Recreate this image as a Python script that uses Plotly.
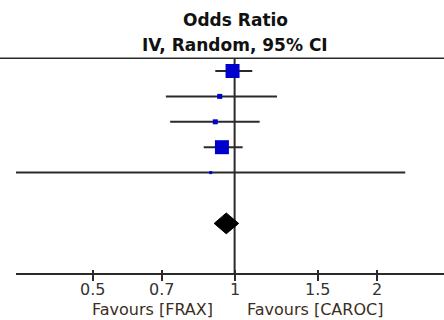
import math
import plotly.graph_objects as go

# Study-level odds ratios with 95% confidence intervals (IV, random effects)
study_rows = [0, 1, 2, 3, 4]
study_or = [0.99, 0.93, 0.91, 0.94, 0.89]
study_lo = [0.91, 0.715, 0.73, 0.86, 0.34]
study_hi = [1.09, 1.23, 1.13, 1.04, 2.30]

# Pooled estimate
pooled_row = 6
pooled_or = 0.96
pooled_lo = 0.905
pooled_hi = 1.02

# Axis ticks
tick_vals = [0.5, 0.7, 1, 1.5, 2]
tick_text = ["0.5", "0.7", "1", "1.5", "2"]

# Styling
W, H = 444, 320
marker_sizes = [14, 5, 5, 14, 3]
BLUE = "#0000CC"
INK = "#2a2a2a"
FONT = "DejaVu Sans"
NULL_EFFECT = 1.0

x_min, x_max = 0.344, 10 ** 0.4439
x_left_px = 16
row_first_px, row_step_px = 71.0, 25.4
y_top = -row_first_px / row_step_px
y_bottom = (H - row_first_px) / row_step_px
axis_row = 8
header_row = -0.5


def paper_y(row):
    return (y_bottom - row) / (y_bottom - y_top)


fig = go.Figure()

# confidence interval lines + weighted study markers
fig.add_trace(go.Scatter(
    x=study_or, y=study_rows, mode="markers",
    marker=dict(symbol="square", size=marker_sizes, color=BLUE, opacity=1,
                line=dict(width=0)),
    error_x=dict(type="data", symmetric=False,
                 array=[h - o for h, o in zip(study_hi, study_or)],
                 arrayminus=[o - l for o, l in zip(study_or, study_lo)],
                 color=INK, thickness=2, width=0),
    hoverinfo="skip", showlegend=False,
))

# pooled diamond
half_h = 0.41
fig.add_trace(go.Scatter(
    x=[pooled_lo, pooled_or, pooled_hi, pooled_or, pooled_lo],
    y=[pooled_row, pooled_row - half_h, pooled_row, pooled_row + half_h, pooled_row],
    mode="lines", fill="toself", fillcolor="black",
    line=dict(color="black", width=1),
    hoverinfo="skip", showlegend=False,
))

# invisible trace that carries the upward tick axis
fig.add_trace(go.Scatter(x=[NULL_EFFECT], y=[axis_row], xaxis="x2", mode="markers",
                         marker=dict(opacity=0), hoverinfo="skip", showlegend=False))

# line of no effect and header rule
fig.add_shape(type="line", xref="x", yref="y", x0=NULL_EFFECT, x1=NULL_EFFECT,
              y0=header_row, y1=axis_row, line=dict(color=INK, width=2), layer="below")
fig.add_shape(type="line", xref="paper", yref="y", x0=0, x1=1,
              y0=header_row, y1=header_row, line=dict(color=INK, width=1.5))

axis_common = dict(
    type="log", range=[math.log10(x_min), math.log10(x_max)],
    domain=[x_left_px / W, 1], anchor="free", position=paper_y(axis_row),
    showgrid=False, zeroline=False, tickvals=tick_vals, showticklabels=False,
)

fig.update_layout(
    width=W, height=H, margin=dict(l=0, r=0, t=0, b=0),
    paper_bgcolor="white", plot_bgcolor="white",
    font=dict(family=FONT, color=INK),
    xaxis=dict(**axis_common, showline=True, linecolor=INK,
               linewidth=1.5, ticks="outside", ticklen=6, tickwidth=1.5,
               tickcolor=INK),
    xaxis2=dict(**axis_common, overlaying="x", side="top", showline=False,
                ticks="outside", ticklen=4, tickwidth=1.5, tickcolor=INK),
    yaxis=dict(range=[y_bottom, y_top], domain=[0, 1], visible=False),
)

# tick labels, set just under the tick marks
for v, t in zip(tick_vals, tick_text):
    fig.add_annotation(text=t, xref="x", yref="paper", x=math.log10(v),
                       y=1 - 289 / H, showarrow=False, xanchor="center",
                       yanchor="middle", font=dict(size=16, color="#333333"))

center_x = 235 / W
fig.add_annotation(text="<b>Odds Ratio</b>", xref="paper", yref="paper",
                   x=center_x, y=1 - 20 / H, showarrow=False,
                   font=dict(size=17, color="#111111"), xanchor="center", yanchor="middle")
fig.add_annotation(text="<b>IV, Random, 95% CI</b>", xref="paper", yref="paper",
                   x=center_x, y=1 - 45 / H, showarrow=False,
                   font=dict(size=17, color="#111111"), xanchor="center", yanchor="middle")
fig.add_annotation(text="Favours [FRAX]", xref="paper", yref="paper",
                   x=215 / W, y=1 - 309 / H, showarrow=False,
                   font=dict(size=16, color="#3a2e22"), xanchor="right", yanchor="middle")
fig.add_annotation(text="Favours [CAROC]", xref="paper", yref="paper",
                   x=245 / W, y=1 - 309 / H, showarrow=False,
                   font=dict(size=16, color="#3a2e22"), xanchor="left", yanchor="middle")

fig.write_html("out.html")
